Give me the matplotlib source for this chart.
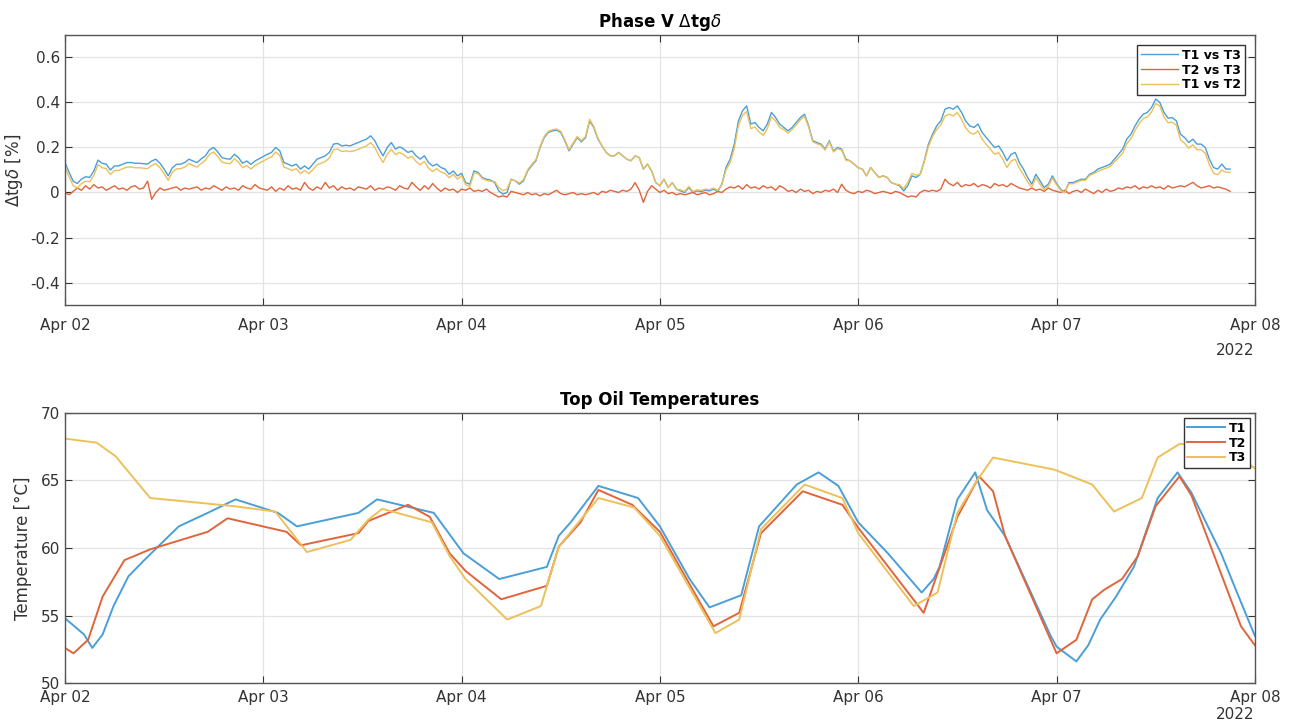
import numpy as np
import matplotlib
matplotlib.use('Agg')
import matplotlib.pyplot as plt
import matplotlib.dates as mdates
from datetime import datetime

# Phase V delta tan-delta, half-hour samples from Apr 02 00:00
dtg_start = np.datetime64('2022-04-02T00:00')
t1_vs_t3 = [
    0.133, 0.09, 0.05, 0.04, 0.06, 0.07, 0.067, 0.096, 0.144, 0.13,
    0.126, 0.10, 0.118, 0.118, 0.126, 0.133, 0.133, 0.13, 0.13, 0.128,
    0.126, 0.14, 0.148, 0.13, 0.104, 0.074, 0.11, 0.125, 0.126, 0.133,
    0.148, 0.14, 0.133, 0.15, 0.163, 0.19, 0.2, 0.18, 0.155, 0.15,
    0.148, 0.17, 0.155, 0.13, 0.14, 0.125, 0.14, 0.15, 0.16, 0.17,
    0.178, 0.2, 0.185, 0.133, 0.126, 0.118, 0.126, 0.104, 0.118, 0.104,
    0.126, 0.148, 0.155, 0.163, 0.178, 0.215, 0.218, 0.207, 0.21, 0.207,
    0.215, 0.222, 0.23, 0.237, 0.252, 0.23, 0.193, 0.163, 0.2, 0.222,
    0.193, 0.203, 0.193, 0.178, 0.185, 0.163, 0.148, 0.163, 0.133, 0.118,
    0.126, 0.111, 0.104, 0.081, 0.096, 0.074, 0.085, 0.044, 0.037, 0.096,
    0.089, 0.067, 0.059, 0.055, 0.044, 0.007, -0.007, 0.0, 0.059, 0.052,
    0.037, 0.052, 0.096, 0.12, 0.141, 0.2, 0.244, 0.267, 0.274, 0.277,
    0.267, 0.23, 0.185, 0.215, 0.244, 0.225, 0.244, 0.318, 0.289, 0.237,
    0.207, 0.178, 0.163, 0.163, 0.178, 0.163, 0.148, 0.141, 0.163, 0.155,
    0.104, 0.126, 0.096, 0.044, 0.03, 0.059, 0.022, 0.044, 0.015, 0.007,
    0.0, 0.022, 0.0, 0.007, 0.004, 0.01, 0.007, 0.015, 0.004, 0.037,
    0.111, 0.148, 0.215, 0.318, 0.363, 0.385, 0.304, 0.311, 0.289, 0.274,
    0.304, 0.356, 0.333, 0.304, 0.289, 0.274, 0.289, 0.311, 0.333, 0.348,
    0.296, 0.23, 0.222, 0.215, 0.193, 0.23, 0.185, 0.2, 0.193, 0.148,
    0.141, 0.126, 0.11, 0.104, 0.074, 0.111, 0.089, 0.067, 0.074, 0.067,
    0.044, 0.037, 0.03, 0.007, 0.03, 0.074, 0.067, 0.081, 0.141, 0.215,
    0.259, 0.296, 0.318, 0.37, 0.378, 0.37, 0.385, 0.356, 0.318, 0.296,
    0.289, 0.304, 0.267, 0.244, 0.222, 0.2, 0.207, 0.178, 0.141, 0.17,
    0.178, 0.133, 0.104, 0.067, 0.037, 0.081, 0.052, 0.022, 0.037, 0.074,
    0.04, 0.015, 0.0, 0.044, 0.044, 0.052, 0.059, 0.059, 0.081, 0.089,
    0.104, 0.111, 0.118, 0.126, 0.148, 0.17, 0.193, 0.237, 0.259, 0.296,
    0.326, 0.348, 0.356, 0.378, 0.415, 0.4, 0.356, 0.33, 0.333, 0.318,
    0.259, 0.244, 0.222, 0.237, 0.215, 0.215, 0.2, 0.148, 0.111, 0.104,
    0.126, 0.104, 0.104,
]
t2_vs_t3 = [
    0.0, -0.01, 0.005, 0.02, 0.01, 0.03, 0.015, 0.035, 0.02, 0.025,
    0.01, 0.02, 0.03, 0.015, 0.02, 0.01, 0.025, 0.03, 0.015, 0.02,
    0.05, -0.03, 0.0, 0.02, 0.01, 0.015, 0.02, 0.025, 0.01, 0.02,
    0.015, 0.02, 0.025, 0.01, 0.02, 0.015, 0.03, 0.02, 0.01, 0.025,
    0.015, 0.02, 0.01, 0.03, 0.02, 0.015, 0.035, 0.02, 0.015, 0.01,
    0.025, 0.005, 0.02, 0.01, 0.03, 0.015, 0.02, 0.01, 0.045, 0.02,
    0.01, 0.025, 0.015, 0.045, 0.02, 0.03, 0.01, 0.025, 0.015, 0.02,
    0.01, 0.025, 0.02, 0.015, 0.03, 0.01, 0.02, 0.015, 0.025, 0.02,
    0.01, 0.03, 0.02, 0.015, 0.045, 0.025, 0.01, 0.03, 0.015, 0.04,
    0.02, 0.005, 0.02, 0.01, 0.015, 0.0, 0.015, 0.01, 0.02, 0.005,
    0.01, 0.005, 0.015, 0.0, -0.01, -0.02, -0.015, -0.02, 0.005, 0.0,
    -0.005, -0.01, 0.0, -0.01, -0.005, -0.015, -0.005, -0.01, 0.0, 0.01,
    -0.005, -0.01, -0.005, 0.0, -0.01, -0.005, -0.01, -0.005, 0.0, -0.01,
    0.005, 0.0, 0.01, 0.005, 0.0, 0.01, 0.005, 0.015, 0.044, 0.01,
    -0.044, 0.005, 0.03, 0.015, 0.0, 0.01, -0.005, 0.0, -0.01, -0.005,
    -0.01, -0.005, 0.0, -0.01, -0.005, 0.0, -0.01, -0.005, 0.005, 0.0,
    0.015, 0.025, 0.02, 0.03, 0.015, 0.035, 0.02, 0.025, 0.015, 0.03,
    0.02, 0.025, 0.01, 0.03, 0.02, 0.005, 0.01, 0.0, 0.015, 0.005,
    0.01, -0.005, 0.005, 0.0, 0.01, 0.005, 0.015, 0.0, 0.037, 0.01,
    0.0, -0.005, 0.005, 0.0, 0.01, 0.005, -0.005, 0.0, 0.005, 0.0,
    -0.005, 0.005, 0.0, -0.01, -0.02, -0.015, -0.02, 0.0, 0.01, 0.005,
    0.01, 0.005, 0.015, 0.059, 0.04, 0.03, 0.045, 0.025, 0.035, 0.03,
    0.04, 0.025, 0.035, 0.03, 0.02, 0.04, 0.03, 0.035, 0.025, 0.04,
    0.03, 0.02, 0.015, 0.01, 0.02, 0.01, 0.015, 0.005, 0.02, 0.01,
    0.005, 0.0, 0.01, -0.005, 0.005, 0.01, 0.0, 0.015, 0.005, -0.005,
    0.01, 0.0, 0.015, 0.005, 0.01, 0.02, 0.015, 0.025, 0.02, 0.03,
    0.015, 0.025, 0.02, 0.03, 0.02, 0.025, 0.015, 0.03, 0.02, 0.025,
    0.03, 0.025, 0.035, 0.045, 0.03, 0.02, 0.025, 0.03, 0.02, 0.025,
    0.02, 0.015, 0.005,
]
t1_vs_t2 = [
    0.113, 0.07, 0.03, 0.02, 0.04, 0.05, 0.047, 0.076, 0.124, 0.11,
    0.106, 0.08, 0.098, 0.098, 0.106, 0.113, 0.113, 0.11, 0.11, 0.108,
    0.106, 0.12, 0.128, 0.11, 0.084, 0.054, 0.09, 0.105, 0.106, 0.113,
    0.128, 0.12, 0.113, 0.13, 0.143, 0.17, 0.18, 0.16, 0.135, 0.13,
    0.128, 0.15, 0.135, 0.11, 0.12, 0.105, 0.12, 0.13, 0.14, 0.15,
    0.158, 0.18, 0.165, 0.113, 0.106, 0.098, 0.106, 0.084, 0.098, 0.084,
    0.101, 0.123, 0.13, 0.138, 0.153, 0.19, 0.193, 0.182, 0.185, 0.182,
    0.185, 0.192, 0.2, 0.207, 0.222, 0.2, 0.163, 0.133, 0.17, 0.192,
    0.168, 0.178, 0.168, 0.153, 0.16, 0.138, 0.123, 0.138, 0.108, 0.093,
    0.106, 0.091, 0.084, 0.066, 0.081, 0.059, 0.075, 0.034, 0.027, 0.086,
    0.084, 0.062, 0.054, 0.05, 0.049, 0.022, 0.008, 0.015, 0.059, 0.052,
    0.042, 0.057, 0.101, 0.125, 0.146, 0.205, 0.249, 0.272, 0.279, 0.282,
    0.272, 0.235, 0.19, 0.22, 0.249, 0.23, 0.249, 0.325, 0.294, 0.242,
    0.207, 0.178, 0.163, 0.163, 0.178, 0.163, 0.148, 0.141, 0.163, 0.155,
    0.104, 0.126, 0.096, 0.044, 0.03, 0.059, 0.022, 0.044, 0.015, 0.012,
    0.005, 0.027, 0.005, 0.012, 0.009, 0.015, 0.012, 0.02, 0.009, 0.037,
    0.1, 0.133, 0.195, 0.298, 0.343, 0.36, 0.284, 0.291, 0.269, 0.254,
    0.284, 0.336, 0.318, 0.289, 0.279, 0.264, 0.279, 0.301, 0.323, 0.338,
    0.291, 0.225, 0.217, 0.21, 0.188, 0.225, 0.18, 0.195, 0.188, 0.143,
    0.141, 0.126, 0.11, 0.104, 0.074, 0.111, 0.089, 0.067, 0.074, 0.067,
    0.044, 0.037, 0.035, 0.017, 0.045, 0.085, 0.077, 0.081, 0.136, 0.205,
    0.249, 0.28, 0.3, 0.34, 0.348, 0.34, 0.355, 0.326, 0.288, 0.266,
    0.259, 0.274, 0.237, 0.214, 0.192, 0.17, 0.177, 0.148, 0.111, 0.14,
    0.148, 0.108, 0.079, 0.047, 0.022, 0.066, 0.037, 0.012, 0.027, 0.064,
    0.035, 0.01, 0.0, 0.039, 0.039, 0.047, 0.054, 0.054, 0.076, 0.084,
    0.094, 0.101, 0.108, 0.116, 0.136, 0.155, 0.175, 0.217, 0.239, 0.276,
    0.306, 0.328, 0.336, 0.358, 0.395, 0.385, 0.336, 0.31, 0.313, 0.298,
    0.234, 0.219, 0.197, 0.212, 0.19, 0.19, 0.175, 0.123, 0.086, 0.079,
    0.1, 0.09, 0.09,
]

# Top oil temperatures, (days after Apr 02 00:00, degC)
t1_days = [0, 0.096, 0.138, 0.19, 0.245, 0.32, 0.40, 0.49, 0.574, 0.72,
           0.86, 1.074, 1.17, 1.48, 1.574, 1.86, 2.01, 2.19, 2.43, 2.49,
           2.55, 2.69, 2.89, 3.0, 3.15, 3.25, 3.41, 3.5, 3.69, 3.8,
           3.9, 4.0, 4.15, 4.32, 4.38, 4.41, 4.5, 4.59, 4.65, 4.74,
           4.97, 5.0, 5.1, 5.16, 5.22, 5.3, 5.39, 5.51, 5.61, 5.68,
           5.83, 5.91, 6.0]
t1_temp = [54.8, 53.6, 52.6, 53.6, 55.7, 57.9, 59.1, 60.4, 61.6, 62.6,
           63.6, 62.6, 61.6, 62.6, 63.6, 62.6, 59.6, 57.7, 58.6, 60.9,
           61.9, 64.6, 63.7, 61.6, 57.7, 55.6, 56.5, 61.6, 64.7, 65.6,
           64.6, 61.9, 59.6, 56.7, 57.7, 58.6, 63.6, 65.6, 62.8, 60.9,
           53.5, 52.7, 51.6, 52.8, 54.7, 56.4, 58.6, 63.7, 65.6, 64.1,
           59.6, 56.7, 53.5]
t2_days = [0, 0.043, 0.117, 0.19, 0.30, 0.43, 0.72, 0.82, 1.117, 1.19,
           1.48, 1.53, 1.73, 1.84, 1.94, 2.02, 2.2, 2.43, 2.49, 2.6,
           2.69, 2.86, 3.0, 3.27, 3.4, 3.51, 3.72, 3.92, 4.0, 4.33,
           4.5, 4.61, 4.68, 4.74, 5.0, 5.1, 5.18, 5.24, 5.33, 5.41,
           5.5, 5.62, 5.68, 5.93, 6.0]
t2_temp = [52.6, 52.2, 53.2, 56.4, 59.1, 59.9, 61.2, 62.2, 61.2, 60.2,
           61.1, 62.0, 63.2, 62.3, 59.6, 58.3, 56.2, 57.2, 60.1, 61.9,
           64.3, 63.2, 61.2, 54.2, 55.2, 61.1, 64.2, 63.2, 61.5, 55.2,
           62.3, 65.3, 64.2, 60.9, 52.2, 53.2, 56.2, 56.9, 57.7, 59.4,
           63.1, 65.3, 63.9, 54.2, 52.8]
t3_days = [0, 0.16, 0.255, 0.43, 0.85, 1.06, 1.22, 1.44, 1.53, 1.6,
           1.85, 1.94, 2.02, 2.23, 2.4, 2.49, 2.69, 2.87, 3.0, 3.28,
           3.4, 3.51, 3.73, 3.92, 4.0, 4.28, 4.4, 4.5, 4.59, 4.68,
           4.99, 5.18, 5.29, 5.43, 5.51, 5.62, 5.7, 5.93, 6.0]
t3_temp = [68.1, 67.8, 66.8, 63.7, 63.1, 62.7, 59.7, 60.6, 62.1, 62.9,
           61.9, 59.4, 57.7, 54.7, 55.7, 60.1, 63.7, 63.0, 60.9, 53.7,
           54.7, 61.4, 64.7, 63.7, 61.1, 55.7, 56.7, 62.6, 64.8, 66.7,
           65.8, 64.7, 62.7, 63.7, 66.7, 67.7, 67.7, 66.6, 65.9]

blue = '#4a9fd8'
red = '#e0653c'
yellow = '#edc05a'

plt.rcParams['font.family'] = 'DejaVu Sans'
plt.rcParams['axes.unicode_minus'] = False

day0 = mdates.date2num(datetime(2022, 4, 2))
x_lim = (day0, mdates.date2num(datetime(2022, 4, 8)))
tick_days = [mdates.date2num(datetime(2022, 4, d)) for d in range(2, 9)]

fig = plt.figure(figsize=(12.91, 7.24), dpi=100)
ax1 = fig.add_axes([0.0503, 0.5787, 0.9217, 0.373])
ax2 = fig.add_axes([0.0503, 0.0566, 0.9217, 0.373])


def style_axes(ax, pad):
    ax.set_xlim(*x_lim)
    ax.set_xticks(tick_days)
    ax.xaxis.set_major_formatter(mdates.DateFormatter('%b %d'))
    ax.grid(True, color='#e3e3e3', linewidth=0.9)
    ax.set_axisbelow(True)
    ax.tick_params(direction='in', top=True, right=True, length=5,
                   color='#333333', labelcolor='#333333', labelsize=11)
    ax.tick_params(axis='x', pad=pad)
    for s in ax.spines.values():
        s.set_color('#555555')
        s.set_linewidth(1.0)


# top panel
n = len(t1_vs_t3)
t_top = dtg_start + np.arange(n) * np.timedelta64(30, 'm')
t_top = mdates.date2num(t_top.astype('datetime64[s]').astype(datetime))
ax1.plot(t_top, t1_vs_t3, color=blue, lw=1.0, label='T1 vs T3')
ax1.plot(t_top, t2_vs_t3, color=red, lw=1.0, label='T2 vs T3')
ax1.plot(t_top, t1_vs_t2, color=yellow, lw=1.0, label='T1 vs T2')
ax1.set_ylim(-0.5, 0.7)
ax1.set_yticks([-0.4, -0.2, 0, 0.2, 0.4, 0.6])
ax1.set_yticklabels(['-0.4', '-0.2', '0', '0.2', '0.4', '0.6'])
style_axes(ax1, 9)
ax1.set_ylabel(r'$\Delta$tg$\delta$ [%]', fontsize=12, color='#333333', labelpad=4)
ax1.set_title(r'Phase V $\Delta$tg$\delta$', fontsize=12, fontweight='bold', pad=6)
leg1 = ax1.legend(loc='upper right', prop={'weight': 'bold', 'size': 9},
                  frameon=True, fancybox=False, edgecolor='#333333', framealpha=1,
                  borderpad=0.3, labelspacing=0.15, handlelength=3.0, handletextpad=0.3,
                  borderaxespad=0.8)
leg1.get_frame().set_linewidth(1.0)
ax1.text(1.0, -0.14, '2022', transform=ax1.transAxes, ha='right', va='top',
         fontsize=11, color='#333333')

# bottom panel
ax2.plot(day0 + np.array(t1_days), t1_temp, color=blue, lw=1.4, label='T1')
ax2.plot(day0 + np.array(t2_days), t2_temp, color=red, lw=1.4, label='T2')
ax2.plot(day0 + np.array(t3_days), t3_temp, color=yellow, lw=1.4, label='T3')
ax2.set_ylim(50, 70)
ax2.set_yticks([50, 55, 60, 65, 70])
style_axes(ax2, 5)
ax2.set_ylabel('Temperature [°C]', fontsize=12, color='#333333', labelpad=6)
ax2.set_title('Top Oil Temperatures', fontsize=12, fontweight='bold', pad=6)
leg2 = ax2.legend(loc='upper right', prop={'weight': 'bold', 'size': 9},
                  frameon=True, fancybox=False, edgecolor='#333333', framealpha=1,
                  borderpad=0.3, labelspacing=0.15, handlelength=3.0, handletextpad=0.3,
                  borderaxespad=0.4)
leg2.get_frame().set_linewidth(1.0)
ax2.text(1.0, -0.09, '2022', transform=ax2.transAxes, ha='right', va='top',
         fontsize=11, color='#333333')

fig.savefig('out.png', dpi=100, facecolor='white')
